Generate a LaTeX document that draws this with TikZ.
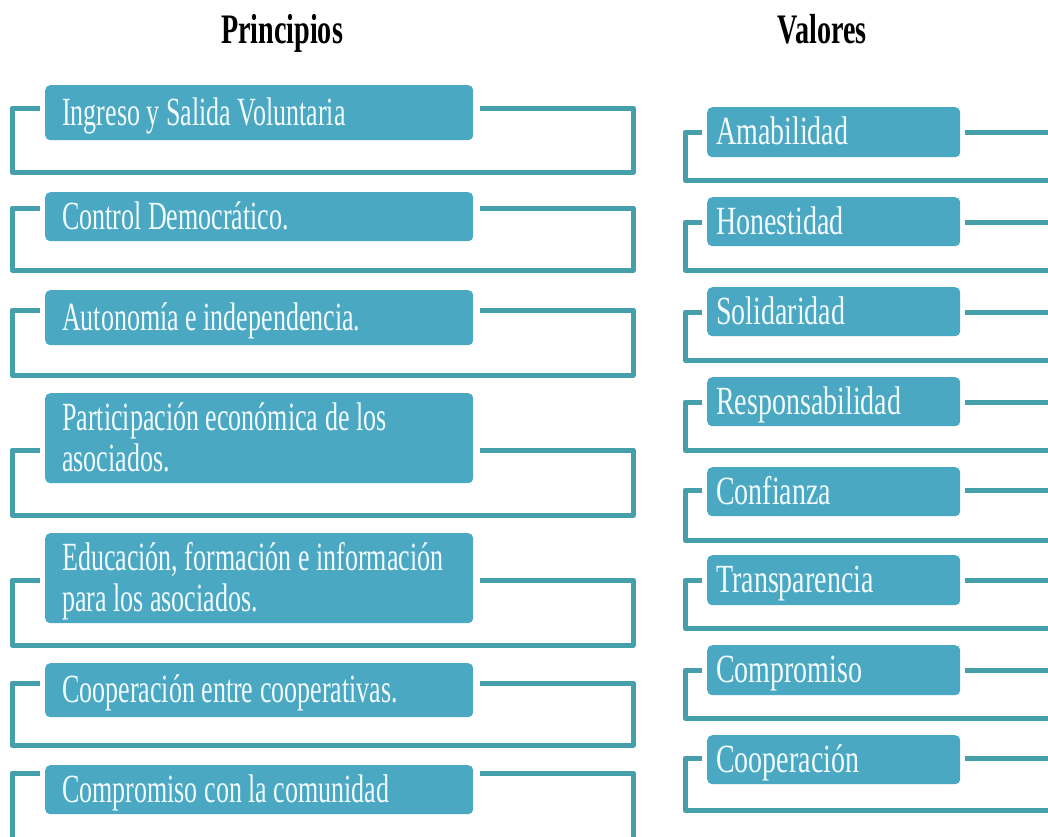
\documentclass[tikz,border=0pt]{standalone}
\usepackage{fontspec}
\newfontfamily\boxfont{Liberation Serif}[FakeStretch=0.65]
\newfontfamily\valfont{Liberation Serif}[FakeStretch=0.70]
\newfontfamily\titlefont{Liberation Serif}[FakeStretch=0.67]
\definecolor{boxc}{HTML}{4AA8C3}
\definecolor{linec}{HTML}{45A0AB}
\definecolor{txtc}{HTML}{F2FBFF}
\newcommand\mytopstrut{\rule{0pt}{37pt}}
\newcommand\mybotstrut{\rule[-12pt]{0pt}{12pt}}
\tikzset{
  pbox/.style={rectangle, rounded corners=5pt, fill=boxc, text=txtc,
    font=\boxfont\fontsize{40}{41}\selectfont, align=flush left,
    text width=394pt, inner xsep=17pt, inner ysep=0pt,
    minimum width=428pt, anchor=north west},
  vbox/.style={rectangle, rounded corners=5pt, fill=boxc, text=txtc,
    font=\valfont\fontsize{40}{40}\selectfont, align=flush left,
    text width=235pt, inner xsep=9pt, inner ysep=0pt,
    minimum width=253pt, anchor=north west},
  conn/.style={draw=linec, line width=5pt, line join=round},
  ttl/.style={font=\titlefont\bfseries\fontsize{42}{42}\selectfont, text=black, anchor=base, inner sep=0pt}
}
\begin{document}
\begin{tikzpicture}[x=1pt,y=-1pt]
\useasboundingbox (0,0) rectangle (1048,836);
\fill[white] (0,0) rectangle (1048,836);
\clip (0,0) rectangle (1048,836);
\node[ttl] (tp) at (282,43) {Principios};
\node[ttl] (tv) at (822,43) {Valores};
\foreach \i/\t/\b/\c/\y/\txt in {
  1/85/140/108/172/{Ingreso y Salida Voluntaria},
  2/192/240/208/270/{Control Democrático.},
  3/290/345/310/375/{Autonomía e independencia.},
  4/393/483/450/515/{Participación económica de los\\asociados.},
  5/533/613/580/645/{Educación, formación e información\\para los asociados.},
  6/663/717/683/745/{Cooperación entre cooperativas.},
  7/765/810/773/860/{Compromiso con la comunidad}}{
  \pgfmathsetmacro\hh{\b-\t}
  \node[pbox, minimum height=\hh pt] (p\i) at (45,\t) {\mytopstrut\txt\mybotstrut};
  \coordinate (pa\i) at (40,\c);
  \coordinate (pb\i) at (12,\y);
  \coordinate (pc\i) at (633,\y);
  \coordinate (pd\i) at (480,\c);
  \draw[conn] (pa\i) -| (pb\i) -- (pc\i) |- (pd\i);
}
\foreach \i/\t/\b/\c/\y/\txt in {
  1/107/157/132/180/{Amabilidad},
  2/197/245/222/270/{Honestidad},
  3/287/335/312/360/{Solidaridad},
  4/377/425/402/450/{Responsabilidad},
  5/467/515/490/540/{Confianza},
  6/555/605/580/628/{Transparencia},
  7/645/695/670/718/{Compromiso},
  8/735/783/758/810/{Cooperación}}{
  \pgfmathsetmacro\hh{\b-\t}
  \node[vbox, minimum height=\hh pt] (v\i) at (707,\t) {\mytopstrut\txt\mybotstrut};
  \coordinate (va\i) at (702,\c);
  \coordinate (vb\i) at (685,\y);
  \coordinate (vc\i) at (1070,\y);
  \coordinate (vd\i) at (965,\c);
  \coordinate (ve\i) at (1070,\c);
  \draw[conn] (va\i) -| (vb\i) -- (vc\i);
  \draw[conn] (vd\i) -- (ve\i);
}
\end{tikzpicture}
\end{document}
